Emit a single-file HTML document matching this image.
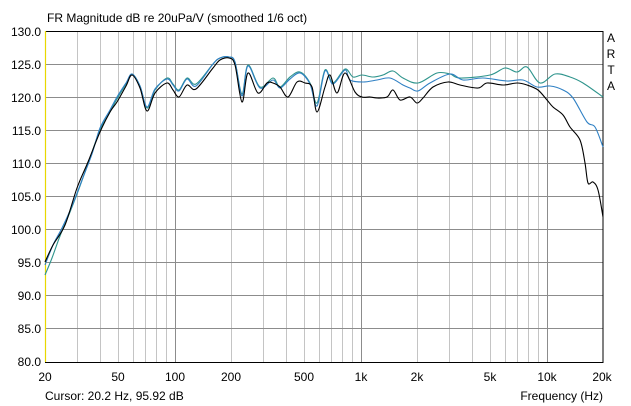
<!DOCTYPE html>
<html><head><style>
html,body{margin:0;padding:0;background:#fff;}
svg{display:block;font-family:"Liberation Sans",Arial,sans-serif;}
</style></head><body>
<svg id="s" width="631" height="406" viewBox="0 0 631 406" xmlns="http://www.w3.org/2000/svg">
<rect width="631" height="406" fill="#fff"/>
<g stroke="#c4c4c4" stroke-width="1">
<line x1="77.5" y1="31" x2="77.5" y2="362"/><line x1="100.5" y1="31" x2="100.5" y2="362"/>
<line x1="118.5" y1="31" x2="118.5" y2="362"/><line x1="133.5" y1="31" x2="133.5" y2="362"/>
<line x1="145.5" y1="31" x2="145.5" y2="362"/><line x1="156.5" y1="31" x2="156.5" y2="362"/>
<line x1="166.5" y1="31" x2="166.5" y2="362"/>
<line x1="231.5" y1="31" x2="231.5" y2="362"/><line x1="263.5" y1="31" x2="263.5" y2="362"/>
<line x1="286.5" y1="31" x2="286.5" y2="362"/><line x1="304.5" y1="31" x2="304.5" y2="362"/>
<line x1="319.5" y1="31" x2="319.5" y2="362"/><line x1="331.5" y1="31" x2="331.5" y2="362"/>
<line x1="342.5" y1="31" x2="342.5" y2="362"/><line x1="352.5" y1="31" x2="352.5" y2="362"/>
<line x1="417.5" y1="31" x2="417.5" y2="362"/><line x1="449.5" y1="31" x2="449.5" y2="362"/>
<line x1="472.5" y1="31" x2="472.5" y2="362"/><line x1="490.5" y1="31" x2="490.5" y2="362"/>
<line x1="505.5" y1="31" x2="505.5" y2="362"/><line x1="517.5" y1="31" x2="517.5" y2="362"/>
<line x1="528.5" y1="31" x2="528.5" y2="362"/><line x1="538.5" y1="31" x2="538.5" y2="362"/>
</g>
<g stroke="#8c8c8c" stroke-width="1">
<line x1="175.5" y1="31" x2="175.5" y2="362"/><line x1="361.5" y1="31" x2="361.5" y2="362"/>
<line x1="547.5" y1="31" x2="547.5" y2="362"/>
<line x1="45" y1="64.5" x2="603" y2="64.5"/><line x1="45" y1="97.5" x2="603" y2="97.5"/>
<line x1="45" y1="130.5" x2="603" y2="130.5"/><line x1="45" y1="163.5" x2="603" y2="163.5"/>
<line x1="45" y1="196.5" x2="603" y2="196.5"/><line x1="45" y1="229.5" x2="603" y2="229.5"/>
<line x1="45" y1="262.5" x2="603" y2="262.5"/><line x1="45" y1="295.5" x2="603" y2="295.5"/>
<line x1="45" y1="328.5" x2="603" y2="328.5"/>
</g>
<rect x="45.5" y="31.5" width="557.5" height="331" fill="none" stroke="#000" stroke-width="1"/>
<line x1="45.5" y1="31" x2="45.5" y2="362" stroke="#e8d800" stroke-width="1.2"/>
<g id="curves" fill="none" stroke-width="1.1" stroke-linejoin="round">
<polyline stroke="#2e948c" points="45,275 52,258 60,236 70,212 80,186 90,158 100,130 110,112 117,99 126,84 132,74 140,86 147,108 155,90 167,78 173,84 179,90 187,78 196,84 213,64 220,58 229,57 235,62 242,94 248,65 260,87 273,78 280,87 290,77 300,72 310,83 317,103 325,70 333,83 345,69 353,77 362,75 373,77 383,75 393,71 403,78 418,83 437,73 450,74 460,78 490,75 505,68 517,72 527,67 540,83 555,74 570,77 583,83 603,97"/>
<polyline stroke="#2f80c4" points="45,265 53,245 62,228 72,206 82,180 92,154 100,128 110,110 117,97 126,83 132,74 140,86 147,107 155,89 167,79 173,85 179,91 187,79 196,86 213,64 220,58 229,57 235,62 242,96 248,66 260,88 273,80 280,88 290,79 300,73 310,84 317,106 325,71 333,84 345,70 350,80 363,82 377,80 390,78 403,85 410,88 418,91 430,83 450,74 463,80 483,78 507,81 523,80 537,87 550,86 563,90 573,98 587,122 595,127 603,147"/>
<polyline stroke="#000" points="45,262 53,245 65,225 77,188 88,162 100,132 110,112 117,102 126,86 132,75 140,88 147,111 155,93 167,83 173,90 179,97 187,85 196,89 213,68 220,60 229,58 235,65 242,102 248,73 258,93 267,83 273,83 280,87 288,97 297,82 305,83 312,87 317,112 325,87 330,75 337,93 345,73 355,92 362,97 370,97 377,98 387,97 393,90 400,100 410,97 417,103 423,98 433,87 448,82 460,85 478,88 487,83 503,85 517,83 527,85 538,90 547,100 553,107 563,115 570,127 580,140 585,163 588,183 593,182 598,190 603,217"/>
</g>
<g font-size="12" fill="#000">
<text x="47" y="22">FR Magnitude dB re 20uPa/V (smoothed 1/6 oct)</text>
<g text-anchor="end">
<text x="41" y="36">130.0</text><text x="41" y="69">125.0</text><text x="41" y="102">120.0</text>
<text x="41" y="135">115.0</text><text x="41" y="168">110.0</text><text x="41" y="201">105.0</text>
<text x="41" y="234">100.0</text><text x="41" y="267">95.0</text><text x="41" y="300">90.0</text>
<text x="41" y="333">85.0</text><text x="41" y="366">80.0</text>
</g>
<g text-anchor="middle">
<text x="45" y="381">20</text><text x="118" y="381">50</text><text x="175" y="381">100</text>
<text x="231" y="381">200</text><text x="304" y="381">500</text><text x="361" y="381">1k</text>
<text x="417" y="381">2k</text><text x="490" y="381">5k</text><text x="547" y="381">10k</text>
<text x="602" y="381">20k</text>
<text x="611" y="42">A</text><text x="611" y="58">R</text><text x="611" y="74">T</text><text x="611" y="90">A</text>
</g>
<text x="45" y="400">Cursor: 20.2 Hz, 95.92 dB</text>
<text x="603" y="400" text-anchor="end">Frequency (Hz)</text>
</g>
</svg>
<script>
(function(){
var NS="http://www.w3.org/2000/svg";
var pls=document.querySelectorAll("#curves polyline");
for(var k=0;k<pls.length;k++){
var pl=pls[k];var p=pl.getAttribute("points").trim().split(/\s+/).map(function(s){var a=s.split(",");return [+a[0],+a[1]];});
var d="M"+p[0][0]+","+p[0][1];
for(var i=0;i<p.length-1;i++){
var p0=p[i>0?i-1:i],p1=p[i],p2=p[i+1],p3=p[i+2<p.length?i+2:i+1];
var c1x=p1[0]+(p2[0]-p0[0])/6,c1y=p1[1]+(p2[1]-p0[1])/6;
var c2x=p2[0]-(p3[0]-p1[0])/6,c2y=p2[1]-(p3[1]-p1[1])/6;
d+=" C"+c1x.toFixed(1)+","+c1y.toFixed(1)+" "+c2x.toFixed(1)+","+c2y.toFixed(1)+" "+p2[0]+","+p2[1];
}
var path=document.createElementNS(NS,"path");
path.setAttribute("d",d);path.setAttribute("stroke",pl.getAttribute("stroke"));
pl.parentNode.replaceChild(path,pl);
}
})();
</script>
</body></html>
